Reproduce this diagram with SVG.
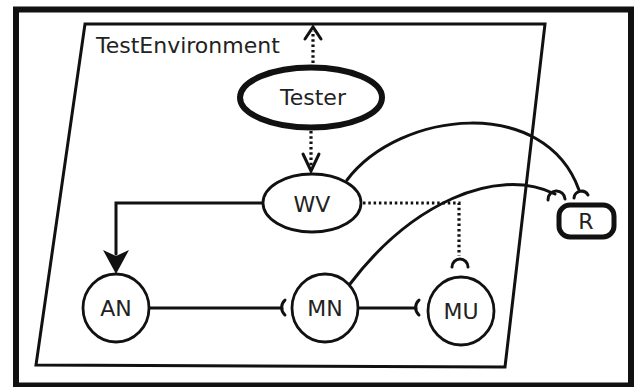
<svg xmlns="http://www.w3.org/2000/svg" width="637" height="387" viewBox="0 0 637 387">
<style>
.ln{fill:none;stroke:#111;stroke-width:3;stroke-linecap:round}
.dot{fill:none;stroke:#111;stroke-width:3.2;stroke-dasharray:2.5 2.8}
.node{fill:#fff;stroke:#111;stroke-width:2.8}
.lbl{font-family:"DejaVu Sans",Verdana,sans-serif;font-size:22px;fill:#222;text-anchor:middle}
</style>
<rect x="0" y="0" width="637" height="387" fill="#fff"/>
<rect id="frame" x="16" y="9.5" width="615" height="376" fill="none" stroke="#111" stroke-width="6"/>
<g id="TestEnvironment">
<polygon points="85,24 545,24 505,367 36,365" fill="none" stroke="#111" stroke-width="3"/>
<text x="96" y="53" font-family="DejaVu Sans,Verdana,sans-serif" font-size="22" fill="#222">TestEnvironment</text>
</g>
<g id="connectors">
<path class="dot" d="M313,63 V31"/>
<path class="ln" d="M305,39 L313,27 L321,39"/>
<path class="dot" d="M311,131 V168"/>
<path class="ln" d="M303,154 L311,171 L319,154"/>
<path class="ln" d="M263,203 H116 V254"/>
<path d="M103,250 L116,256 L129,250 L116,274 Z" fill="#111"/>
<path class="dot" d="M363,203 H459 V256"/>
<path class="ln" d="M452,267 A8,8 0 0 1 468,267"/>
<path class="ln" d="M347,180 C400,110 545,95 579,190"/>
<path class="ln" d="M574,198 A7.5,7.5 0 0 1 588,195"/>
<path class="ln" d="M350,284 C410,205 495,165 555,194"/>
<path class="ln" d="M548,200 A8.5,8.5 0 0 1 565,199"/>
<path class="ln" d="M150,308 H282"/>
<path class="ln" d="M285,300 A10,10 0 0 0 285,315"/>
<path class="ln" d="M358,308 H416"/>
<path class="ln" d="M419,300 A10,10 0 0 0 419,315"/>
</g>
<g id="Tester">
<ellipse cx="311" cy="97.5" rx="71" ry="30" fill="#fff" stroke="#111" stroke-width="6"/>
<text class="lbl" x="313" y="105">Tester</text>
</g>
<g id="WV">
<ellipse class="node" cx="312" cy="203" rx="49" ry="29"/>
<text class="lbl" x="312" y="212">WV</text>
</g>
<g id="AN">
<ellipse class="node" cx="116" cy="308" rx="33" ry="34"/>
<text class="lbl" x="116" y="316">AN</text>
</g>
<g id="MN">
<ellipse class="node" cx="325" cy="308" rx="33" ry="34"/>
<text class="lbl" x="325" y="316">MN</text>
</g>
<g id="MU">
<ellipse class="node" cx="461" cy="311" rx="33" ry="34"/>
<text class="lbl" x="461" y="319">MU</text>
</g>
<g id="R">
<rect x="559" y="205" width="55" height="32" rx="11" fill="#fff" stroke="#111" stroke-width="5"/>
<text class="lbl" x="586" y="229">R</text>
</g>
</svg>
